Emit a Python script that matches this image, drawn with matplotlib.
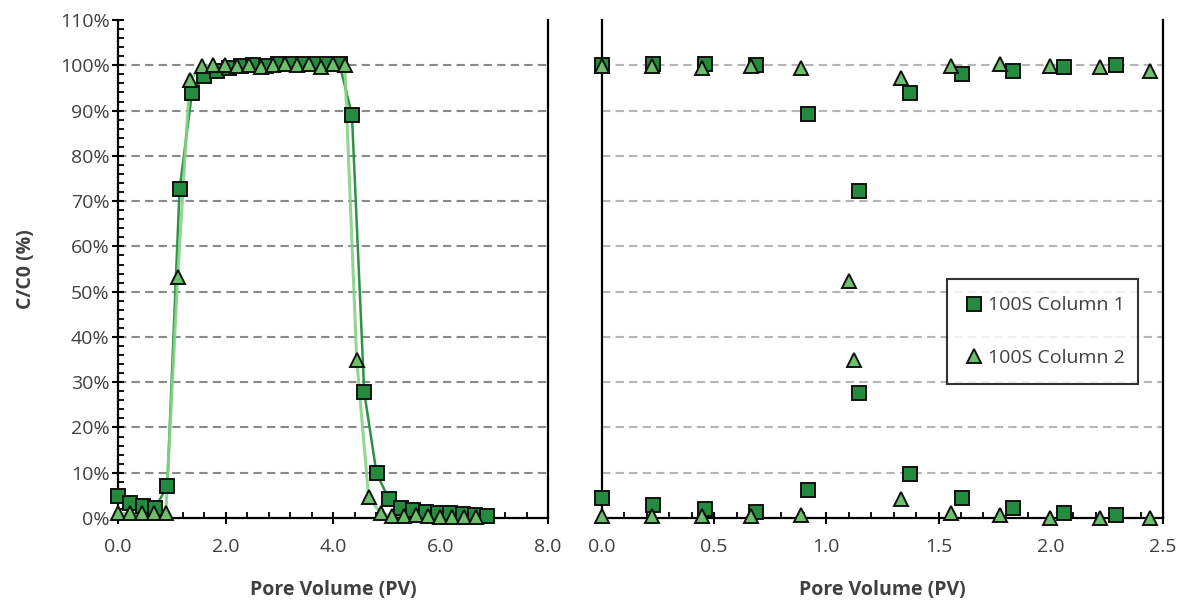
import matplotlib
matplotlib.use("Agg")
import matplotlib.pyplot as plt
from matplotlib.ticker import MultipleLocator, FuncFormatter

plt.rcParams['font.family'] = ['Open Sans', 'DejaVu Sans']

# left panel: full breakthrough / elution curves
col1_step = 0.229
col1_y = [4.8, 3.4, 2.7, 2.2, 7.0, 72.6, 93.8, 97.6, 98.8, 99.5,
          99.8, 100.0, 99.8, 100.2, 100.3, 100.4, 100.3, 100.2, 100.2, 89.1,
          27.8, 9.9, 4.2, 2.2, 1.7, 1.4, 1.2, 1.0, 0.8, 0.7, 0.5]
col1_x = [i * col1_step for i in range(len(col1_y))]

col2_step = 0.222
col2_y = [1.0, 1.0, 1.0, 1.0, 1.0, 53.2, 96.7, 99.8, 100.0, 100.0,
          99.8, 100.0, 99.6, 100.0, 100.2, 100.0, 100.3, 99.7, 100.2, 100.0,
          35.0, 4.6, 1.1, 0.4, 0.4, 0.6, 0.4, 0.3, 0.3, 0.2, 0.3]
col2_x = [i * col2_step for i in range(len(col2_y))]

# right panel: points only
r1_x = [0.0, 0.229, 0.458, 0.687, 0.916, 1.145, 1.374, 1.603, 1.832, 2.061, 2.29]
r1_top = [100.0, 100.4, 100.4, 100.0, 89.3, 72.2, 93.8, 98.0, 98.8, 99.6, 100.0]
r1_bot = [4.5, 2.9, 1.9, 1.3, 6.3, 27.6, 9.7, 4.4, 2.2, 1.1, 0.6]

r2_x_top = [0.0, 0.222, 0.444, 0.666, 0.888, 1.10, 1.332, 1.554, 1.776, 1.998, 2.22, 2.442]
r2_top = [99.8, 99.8, 99.4, 99.8, 99.4, 52.4, 97.1, 99.8, 100.2, 99.8, 99.6, 98.8]
r2_x_bot = [0.0, 0.222, 0.444, 0.666, 0.888, 1.123, 1.332, 1.554, 1.776, 1.998, 2.22, 2.442]
r2_bot = [0.4, 0.4, 0.4, 0.4, 0.6, 34.9, 4.2, 1.2, 0.6, 0.1, 0.0, 0.0]

label1 = "100S Column 1"
label2 = "100S Column 2"

sq_face = "#238a3e"
tri_face = "#6cc06c"
line1 = "#2f9148"
line2 = "#86d286"
txt = "#404040"

fig = plt.figure(figsize=(11.85, 6.02), dpi=100)
ax1 = fig.add_axes([0.0996, 0.1395, 0.3629, 0.8272])
ax2 = fig.add_axes([0.508, 0.1395, 0.4734, 0.8272])

mk1 = dict(marker="s", markersize=10.5, markerfacecolor=sq_face, markeredgecolor="#111111",
           markeredgewidth=1.4, clip_on=False)
mk2 = dict(marker="^", markersize=10.5, markerfacecolor=tri_face, markeredgecolor="#111111",
           markeredgewidth=1.4, clip_on=False)

ax1.plot(col1_x, col1_y, color=line1, lw=1.8, zorder=2)
ax1.plot(col2_x, col2_y, color=line2, lw=2.2, alpha=0.9, zorder=2)
ax1.plot(col1_x, col1_y, ls="none", zorder=3, **mk1)
ax1.plot(col2_x, col2_y, ls="none", zorder=4, **mk2)

ax2.plot(r1_x, r1_top, ls="none", zorder=3, label=label1, **mk1)
ax2.plot(r1_x, r1_bot, ls="none", zorder=3, **mk1)
ax2.plot(r2_x_top, r2_top, ls="none", zorder=4, label=label2, **mk2)
ax2.plot(r2_x_bot, r2_bot, ls="none", zorder=4, **mk2)

pct = FuncFormatter(lambda v, p: f"{v:.0f}%")

for ax, gcol in ((ax1, "#8a8a8a"), (ax2, "#b5b5b5")):
    ax.set_ylim(0, 110)
    ax.yaxis.set_major_locator(MultipleLocator(10))
    ax.spines["top"].set_visible(False)
    for s in ("left", "right", "bottom"):
        ax.spines[s].set_linewidth(1.6)
        ax.spines[s].set_color("black")
    ax.yaxis.grid(True, color=gcol, ls=(0, (4, 2.5)), lw=1.5)
    ax.set_axisbelow(True)
    ax.tick_params(axis="x", which="major", direction="inout", length=9, width=1.5,
                   labelsize=14, labelcolor=txt, pad=10)
    ax.tick_params(axis="x", which="minor", direction="in", length=4, width=1.3)
    ax.set_xlabel("Pore Volume (PV)", fontsize=14, fontweight="bold", color=txt, labelpad=17)

# hide gridline at 0 and 110
for ax in (ax1, ax2):
    fig.canvas.draw()
    for gl, v in zip(ax.get_ygridlines(), ax.get_yticks()):
        if v <= 0 or v >= 110:
            gl.set_visible(False)

ax1.set_xlim(0, 8)
ax1.xaxis.set_major_locator(MultipleLocator(2))
ax1.xaxis.set_minor_locator(MultipleLocator(0.4))
ax1.xaxis.set_major_formatter(FuncFormatter(lambda v, p: f"{v:.1f}"))
ax1.yaxis.set_major_formatter(pct)
ax1.yaxis.set_minor_locator(MultipleLocator(2))
ax1.tick_params(axis="y", which="major", direction="inout", length=9, width=1.5,
                labelsize=14, labelcolor=txt, pad=1.5)
ax1.tick_params(axis="y", which="minor", direction="in", length=4, width=1.3)
ax1.tick_params(axis="y", which="both", right=False)
ax1.set_ylabel("C/C0 (%)", fontsize=14, fontweight="bold", color=txt, labelpad=17)

ax2.set_xlim(0, 2.5)
ax2.xaxis.set_major_locator(MultipleLocator(0.5))
ax2.xaxis.set_minor_locator(MultipleLocator(0.1))
ax2.xaxis.set_major_formatter(FuncFormatter(lambda v, p: f"{v:.1f}"))
ax2.tick_params(axis="y", which="both", length=0, labelleft=False)

leg = ax2.legend(loc="upper left", bbox_to_anchor=(0.615, 0.267, 0.34, 0.213), mode="expand",
                 fontsize=14, frameon=True, fancybox=False, edgecolor="black",
                 borderpad=0.9, labelspacing=1.75, handletextpad=0.2, handlelength=1.0,
                 borderaxespad=0)
leg.get_frame().set_linewidth(1.5)
for t in leg.get_texts():
    t.set_color(txt)

fig.savefig("out.png", dpi=100)
